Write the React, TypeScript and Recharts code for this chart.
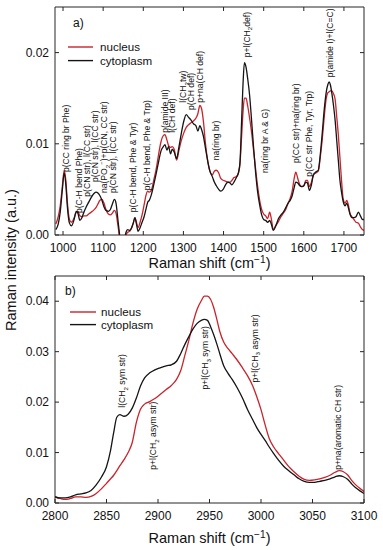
import React from 'react';
import { LineChart, Line, XAxis, YAxis, ReferenceDot, Legend, Label } from 'recharts';

const FONT = '"Liberation Sans", Arial, Helvetica, sans-serif';
const NUCLEUS_COLOR = '#c9232b';
const CYTO_COLOR = '#141414';
const AXIS_COLOR = '#262626';

// ---------- Panel a) fingerprint region ----------
const shiftA = [
  982, 988, 993, 998, 1003, 1007, 1011, 1016, 1021, 1027,
  1033, 1037, 1042, 1047, 1052, 1058, 1064, 1070, 1076, 1082,
  1087, 1092, 1097, 1102, 1107, 1113, 1118, 1123, 1128, 1132,
  1136, 1140, 1144, 1149, 1153, 1157, 1161, 1166, 1171, 1175,
  1179, 1183, 1187, 1192, 1197, 1202, 1207, 1211, 1215, 1220,
  1226, 1232, 1238, 1244, 1250, 1254, 1259, 1263, 1268, 1272,
  1277, 1283, 1289, 1295, 1301, 1307, 1313, 1319, 1325, 1331,
  1336, 1341, 1345, 1350, 1355, 1361, 1366, 1372, 1377, 1382,
  1388, 1393, 1399, 1405, 1411, 1416, 1421, 1426, 1432, 1437,
  1441, 1445, 1449, 1452, 1456, 1460, 1465, 1470, 1475, 1480,
  1485, 1490, 1495, 1500, 1505, 1510, 1515, 1519, 1524, 1530,
  1537, 1543, 1549, 1555, 1561, 1566, 1571, 1576, 1580, 1585,
  1590, 1595, 1600, 1605, 1609, 1614, 1619, 1624, 1630, 1636,
  1641, 1646, 1651, 1656, 1660, 1663, 1666, 1670, 1674, 1678,
  1682, 1686, 1690, 1694, 1698, 1703, 1707, 1711, 1715, 1720,
  1725, 1730, 1736, 1741, 1746, 1750,
];

const cytoplasmA = [
  0.0006, 0.0012, 0.0025, 0.0048, 0.0068, 0.0055, 0.0030, 0.0013, 0.0010, 0.0016,
  0.0026, 0.0024, 0.0016, 0.0019, 0.0025, 0.0031, 0.0036, 0.0041, 0.0045, 0.0047,
  0.0046, 0.0043, 0.0038, 0.0031, 0.0027, 0.0026, 0.0028, 0.0034, 0.0039, 0.0035,
  0.0020, 0.0004, -0.0012, -0.0015, -0.0005, 0.0003, 0.0006, 0.0005, 0.0008, 0.0013,
  0.0019, 0.0012, 0.0004, 0.0008, 0.0014, 0.0020, 0.0029, 0.0036, 0.0038, 0.0044,
  0.0055, 0.0067, 0.0080, 0.0092, 0.0097, 0.0099, 0.0093, 0.0097, 0.0089, 0.0094,
  0.0091, 0.0084, 0.0097, 0.0112, 0.0125, 0.0132, 0.0129, 0.0126, 0.0122, 0.0120,
  0.0114, 0.0120, 0.0116, 0.0108, 0.0095, 0.0080, 0.0070, 0.0064, 0.0058, 0.0054,
  0.0050, 0.0048, 0.0050, 0.0055, 0.0058, 0.0057, 0.0055, 0.0058, 0.0063, 0.0068,
  0.0080, 0.0125, 0.0170, 0.0189, 0.0184, 0.0172, 0.0153, 0.0125, 0.0095, 0.0068,
  0.0047, 0.0033, 0.0022, 0.0017, 0.0016, 0.0014, 0.0016, 0.0012, 0.0005, 0.0010,
  0.0018, 0.0022, 0.0025, 0.0030, 0.0035, 0.0038, 0.0043, 0.0052, 0.0058, 0.0057,
  0.0054, 0.0053, 0.0054, 0.0058, 0.0057, 0.0049, 0.0055, 0.0066, 0.0069, 0.0071,
  0.0088, 0.0112, 0.0138, 0.0157, 0.0165, 0.0168, 0.0165, 0.0155, 0.0142, 0.0126,
  0.0104, 0.0082, 0.0060, 0.0047, 0.0037, 0.0032, 0.0035, 0.0030, 0.0023, 0.0019,
  0.0019, 0.0020, 0.0025, 0.0021, 0.0017, 0.0017,
];

const nucleusA = [
  0.0012, 0.0020, 0.0032, 0.0052, 0.0071, 0.0060, 0.0035, 0.0017, 0.0014, 0.0018,
  0.0025, 0.0026, 0.0021, 0.0020, 0.0021, 0.0021, 0.0023, 0.0025, 0.0027, 0.0030,
  0.0034, 0.0038, 0.0039, 0.0035, 0.0028, 0.0023, 0.0022, 0.0024, 0.0027, 0.0024,
  0.0013, 0.0000, -0.0015, -0.0018, -0.0008, 0.0000, 0.0003, 0.0004, 0.0008, 0.0013,
  0.0019, 0.0014, 0.0008, 0.0014, 0.0022, 0.0033, 0.0044, 0.0048, 0.0047, 0.0049,
  0.0060, 0.0072, 0.0088, 0.0102, 0.0109, 0.0110, 0.0104, 0.0098, 0.0096, 0.0097,
  0.0094, 0.0082, 0.0093, 0.0104, 0.0112, 0.0118, 0.0121, 0.0123, 0.0125, 0.0128,
  0.0133, 0.0142, 0.0139, 0.0124, 0.0100, 0.0080, 0.0070, 0.0066, 0.0070, 0.0071,
  0.0068, 0.0062, 0.0060, 0.0059, 0.0058, 0.0058, 0.0060, 0.0063, 0.0064, 0.0068,
  0.0078, 0.0108, 0.0138, 0.0150, 0.0150, 0.0142, 0.0128, 0.0112, 0.0092, 0.0072,
  0.0053, 0.0038, 0.0028, 0.0023, 0.0021, 0.0018, 0.0025, 0.0018, 0.0006, 0.0010,
  0.0015, 0.0020, 0.0024, 0.0028, 0.0035, 0.0040, 0.0048, 0.0062, 0.0069, 0.0062,
  0.0055, 0.0053, 0.0054, 0.0060, 0.0060, 0.0053, 0.0058, 0.0066, 0.0068, 0.0070,
  0.0085, 0.0105, 0.0130, 0.0150, 0.0156, 0.0157, 0.0158, 0.0158, 0.0155, 0.0149,
  0.0130, 0.0110, 0.0085, 0.0060, 0.0040, 0.0035, 0.0038, 0.0033, 0.0024, 0.0020,
  0.0017, 0.0014, 0.0013, 0.0009, 0.0006, 0.0005,
];

const domainA: [number, number] = [980, 1750];
const yDomainA: [number, number] = [0, 0.025];
const xTicksA = [1000, 1100, 1200, 1300, 1400, 1500, 1600, 1700];
const yTicksA = [0, 0.01, 0.02];

const shiftBandsA = [1007, 1040, 1060, 1080, 1102, 1125, 1174, 1209, 1254, 1272, 1299, 1319, 1341, 1381, 1458, 1503, 1581, 1613, 1665];
const levelBandsA = [0.0069, 0.0024, 0.0042, 0.0058, 0.0046, 0.0046, 0.0025, 0.0049, 0.0112, 0.0112, 0.0145, 0.0137, 0.0145, 0.0082, 0.0195, 0.0068, 0.0079, 0.0064, 0.0173];
const textBandsA = [
  'p(CC ring br Phe)',
  'p(C-H bend Phe)',
  'p(CN str), l(CC str)',
  'p(CN str), l(CC str)',
  'na(PO_{2}^{−})+p(CN, CC str)',
  'p(CN str), l(CC str)',
  'p(C-H bend, Phe & Tyr)',
  'p(C-H bend, Phe & Trp)',
  'p(amide III)',
  'l(CH def)',
  'l(CH_{2}tw)',
  'p(CH def)',
  'p+na(CH def)',
  'na(ring br)',
  'p+l(CH_{2}def)',
  'na(ring br A & G)',
  'p(CC str)+na(ring br)',
  'p(CC str Phe, Tyr, Trp)',
  'p(amide I)+l(C=C)',
];

// ---------- Panel b) high wavenumber region ----------
const shiftB = [
  2800, 2805, 2810, 2815, 2820, 2825, 2830, 2835, 2840, 2845,
  2850, 2854, 2857, 2860, 2863, 2867, 2871, 2875, 2879, 2883,
  2887, 2892, 2897, 2902, 2908, 2913, 2918, 2922, 2926, 2930,
  2934, 2938, 2942, 2945, 2948, 2951, 2954, 2957, 2960, 2964,
  2968, 2972, 2977, 2982, 2987, 2992, 2996, 3000, 3004, 3008,
  3012, 3017, 3022, 3027, 3032, 3037, 3042, 3047, 3052, 3057,
  3062, 3067, 3072, 3076, 3080, 3084, 3088, 3092, 3096, 3100,
];

const cytoplasmB = [
  0.00125, 0.0010, 0.0010, 0.0012, 0.0016, 0.0018, 0.0020, 0.0025, 0.0036, 0.0051,
  0.0072, 0.0105, 0.0140, 0.0170, 0.0175, 0.0172, 0.0176, 0.0188, 0.0208, 0.0232,
  0.0248, 0.0258, 0.0264, 0.0268, 0.0272, 0.0274, 0.0281, 0.0296, 0.0314, 0.0330,
  0.0345, 0.0356, 0.0362, 0.0364, 0.0362, 0.0350, 0.0334, 0.0316, 0.0296, 0.0271,
  0.0257, 0.0245, 0.0228, 0.0208, 0.0185, 0.0165, 0.0149, 0.0136, 0.0124, 0.0111,
  0.0099, 0.0085, 0.0073, 0.0064, 0.0056, 0.0048, 0.0043, 0.0041, 0.0041, 0.0043,
  0.0045, 0.0048, 0.0052, 0.0054, 0.0052, 0.0047, 0.0038, 0.0030, 0.0024, 0.0019,
];

const nucleusB = [
  0.0012, 0.0009, 0.0007, 0.0009, 0.0012, 0.0012, 0.0011, 0.0013, 0.0019, 0.0028,
  0.0039, 0.0048, 0.0055, 0.0064, 0.0074, 0.0086, 0.0100, 0.0120, 0.0160, 0.0186,
  0.0196, 0.0201, 0.0207, 0.0215, 0.0225, 0.0233, 0.0245, 0.0262, 0.0292, 0.0323,
  0.0357, 0.0384, 0.0401, 0.0410, 0.0410, 0.0404, 0.0388, 0.0365, 0.0340, 0.0318,
  0.0306, 0.0296, 0.0283, 0.0268, 0.0252, 0.0232, 0.0210, 0.0185, 0.0155, 0.0128,
  0.0112, 0.0098, 0.0085, 0.0072, 0.0062, 0.0053, 0.0047, 0.0045, 0.0046, 0.0048,
  0.0051, 0.0055, 0.0061, 0.0064, 0.0062, 0.0056, 0.0045, 0.0036, 0.0029, 0.0023,
];

const domainB: [number, number] = [2800, 3100];
const yDomainB: [number, number] = [0, 0.045];
const xTicksB = [2800, 2850, 2900, 2950, 3000, 3050, 3100];
const yTicksB = [0, 0.01, 0.02, 0.03, 0.04];

const shiftBandsB = [2865, 2895, 2946, 2994, 3075];
const levelBandsB = [0.0189, 0.0066, 0.0225, 0.0239, 0.0066];
const textBandsB = [
  'l(CH_{2} sym str)',
  'p+l(CH_{2} asym str)',
  'p+l(CH_{3} sym str)',
  'p+l(CH_{3} asym str)',
  'p+na(aromatic CH str)',
];

const seriesOrder = ['nucleus', 'cytoplasm'];
const xTitle = 'Raman shift (cm^{−1})';
const yTitle = 'Raman intensity (a.u.)';

const dataA = shiftA.map((shift, i) => ({ shift, nucleus: nucleusA[i], cytoplasm: cytoplasmA[i] }));
const dataB = shiftB.map((shift, i) => ({ shift, nucleus: nucleusB[i], cytoplasm: cytoplasmB[i] }));

function rich(text: string, size: number, supRaise = 0.4) {
  const parts = text.split(/(_\{[^}]*\}|\^\{[^}]*\})/).filter((p) => p.length > 0);
  let offset = 0;
  return parts.map((p, i) => {
    let target = 0;
    let content = p;
    let fs = size;
    if (p.startsWith('_{')) {
      target = size * 0.3;
      content = p.slice(2, -1);
      fs = size * 0.72;
    } else if (p.startsWith('^{')) {
      target = -size * supRaise;
      content = p.slice(2, -1);
      fs = size * 0.7;
    }
    const dy = target - offset;
    offset = target;
    return (
      <tspan key={i} dy={dy} fontSize={fs}>
        {content}
      </tspan>
    );
  });
}

const BAND_FONT = 8.6;
const makeBandShape = (text: string) => (props: any) => {
  const { cx, cy } = props;
  if (cx == null || cy == null) return <g />;
  const tx = cx + BAND_FONT * 0.36;
  return (
    <text
      x={tx}
      y={cy}
      transform={`rotate(-90 ${tx} ${cy})`}
      fontSize={BAND_FONT}
      fontFamily={FONT}
      fill="#111"
      textAnchor="start"
    >
      {rich(text, BAND_FONT)}
    </text>
  );
};

const makeLegend = (lineLen: number, gap: number, rowGap: number) => (props: any) => {
  const items = [...(props.payload || [])].sort(
    (a: any, b: any) => seriesOrder.indexOf(String(a.dataKey)) - seriesOrder.indexOf(String(b.dataKey))
  );
  return (
    <svg width={150} height={rowGap * items.length + 8} style={{ display: 'block', overflow: 'visible' }}>
      {items.map((it: any, i: number) => {
        const cy = 6 + i * rowGap;
        return (
          <g key={String(it.value)}>
            <line x1={0} x2={lineLen} y1={cy} y2={cy} stroke={it.color} strokeWidth={1.4} />
            <text x={lineLen + gap} y={cy + 4.1} fontSize={11.6} fontFamily={FONT} fill="#111">
              {it.value}
            </text>
          </g>
        );
      })}
    </svg>
  );
};

const makeXTitle = (offset: number) => (props: any) => {
  const vb = props.viewBox || {};
  const x = vb.x + vb.width / 2;
  const y = vb.y + offset;
  return (
    <text x={x} y={y} textAnchor="middle" fontSize={14.5} fontFamily={FONT} fill="#111">
      {rich(xTitle, 14.5, 0.34)}
    </text>
  );
};

const tickStyle = { fontSize: 12, fill: '#111', fontFamily: FONT };
const fmt = (v: number) => v.toFixed(2);
const blank = () => '';

function Panel(props: {
  data: any[];
  height: number;
  marginTop: number;
  bottomHeight: number;
  titleOffset: number;
  xDomain: [number, number];
  yDomain: [number, number];
  xTicks: number[];
  yTicks: number[];
  bandShifts: number[];
  bandLevels: number[];
  bandTexts: string[];
  legend: { left: number; top: number; lineLen: number; gap: number; rowGap: number };
}) {
  const p = props;
  return (
    <LineChart
      width={383}
      height={p.height}
      data={p.data}
      margin={{ top: p.marginTop, right: 18, left: 0, bottom: 0 }}
    >
      <XAxis
        xAxisId="bottom"
        dataKey="shift"
        type="number"
        domain={p.xDomain}
        ticks={p.xTicks}
        interval={0}
        allowDataOverflow
        height={p.bottomHeight}
        tickSize={-4}
        tickMargin={12}
        tick={tickStyle}
        stroke={AXIS_COLOR}
      >
        <Label content={makeXTitle(p.titleOffset)} />
      </XAxis>
      <XAxis
        xAxisId="top"
        orientation="top"
        dataKey="shift"
        type="number"
        domain={p.xDomain}
        ticks={p.xTicks}
        interval={0}
        allowDataOverflow
        height={1}
        tickSize={-4}
        tickFormatter={blank}
        tick={tickStyle}
        stroke={AXIS_COLOR}
      />
      <YAxis
        yAxisId="left"
        type="number"
        domain={p.yDomain}
        ticks={p.yTicks}
        interval={0}
        allowDataOverflow
        width={55}
        tickSize={-4}
        tickMargin={10}
        tickFormatter={fmt}
        tick={tickStyle}
        stroke={AXIS_COLOR}
      />
      <YAxis
        yAxisId="right"
        orientation="right"
        type="number"
        domain={p.yDomain}
        ticks={p.yTicks}
        interval={0}
        allowDataOverflow
        width={1}
        tickSize={-4}
        tickFormatter={blank}
        tick={tickStyle}
        stroke={AXIS_COLOR}
      />
      <Line
        xAxisId="bottom"
        yAxisId="left"
        type="monotone"
        dataKey="nucleus"
        name="nucleus"
        stroke={NUCLEUS_COLOR}
        strokeWidth={1.3}
        dot={false}
        isAnimationActive={false}
      />
      <Line
        xAxisId="bottom"
        yAxisId="left"
        type="monotone"
        dataKey="cytoplasm"
        name="cytoplasm"
        stroke={CYTO_COLOR}
        strokeWidth={1.3}
        dot={false}
        isAnimationActive={false}
      />
      {p.bandShifts.map((s, i) => (
        <ReferenceDot
          key={`band-${i}`}
          xAxisId="bottom"
          yAxisId="left"
          x={s}
          y={p.bandLevels[i]}
          r={0}
          ifOverflow="visible"
          shape={makeBandShape(p.bandTexts[i])}
        />
      ))}
      <Legend
        layout="vertical"
        align="center"
        verticalAlign="middle"
        content={makeLegend(p.legend.lineLen, p.legend.gap, p.legend.rowGap)}
        wrapperStyle={{ left: p.legend.left, top: p.legend.top, width: 150 }}
      />
    </LineChart>
  );
}

export default function App() {
  return (
    <div
      style={{
        position: 'absolute',
        left: 0,
        top: 0,
        width: 383,
        height: 550,
        background: '#fff',
        fontFamily: FONT,
        overflow: 'hidden',
      }}
    >
      <div style={{ position: 'absolute', left: 0, top: 0 }}>
        <Panel
          data={dataA}
          height={275}
          marginTop={6}
          bottomHeight={40}
          titleOffset={33}
          xDomain={domainA}
          yDomain={yDomainA}
          xTicks={xTicksA}
          yTicks={yTicksA}
          bandShifts={shiftBandsA}
          bandLevels={levelBandsA}
          bandTexts={textBandsA}
          legend={{ left: 68, top: 40.7, lineLen: 25, gap: 7, rowGap: 13.6 }}
        />
      </div>
      <div style={{ position: 'absolute', left: 0, top: 270 }}>
        <Panel
          data={dataB}
          height={280}
          marginTop={5}
          bottomHeight={47}
          titleOffset={40}
          xDomain={domainB}
          yDomain={yDomainB}
          xTicks={xTicksB}
          yTicks={yTicksB}
          bandShifts={shiftBandsB}
          bandLevels={levelBandsB}
          bandTexts={textBandsB}
          legend={{ left: 70, top: 36, lineLen: 26, gap: 5, rowGap: 12.6 }}
        />
      </div>
      <svg
        width={383}
        height={550}
        style={{ position: 'absolute', left: 0, top: 0, pointerEvents: 'none' }}
      >
        <text x={73} y={27} fontSize={12} fontFamily={FONT} fill="#111">a)</text>
        <text x={65} y={295} fontSize={12} fontFamily={FONT} fill="#111">b)</text>
        <text
          x={16}
          y={260}
          transform="rotate(-90 16 260)"
          textAnchor="middle"
          fontSize={14.5}
          fontFamily={FONT}
          fill="#111"
        >
          {yTitle}
        </text>
      </svg>
    </div>
  );
}
